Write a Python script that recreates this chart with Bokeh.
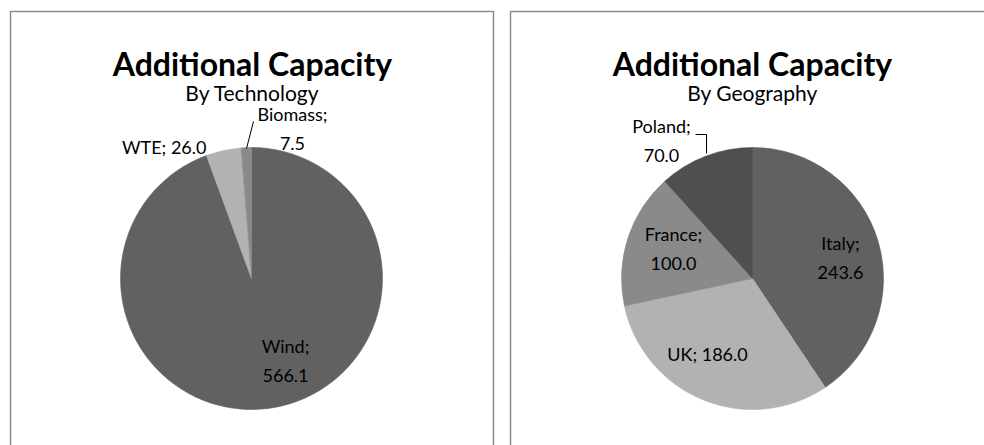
import numpy as np
from bokeh.plotting import figure
from bokeh.models import Range1d, ColumnDataSource
from bokeh.embed import file_html
from bokeh.resources import INLINE
from bokeh.core.properties import value

# Additional capacity split by technology
tech_names = ["Wind", "WTE", "Biomass"]
tech_values = [566.1, 26.0, 7.5]

# Additional capacity split by geography
geo_names = ["Italy", "UK", "France", "Poland"]
geo_values = [243.6, 186.0, 100.0, 70.0]

chart_title = "Additional Capacity"
subtitles = ["By Technology", "By Geography"]

W, H = 984, 445
FONT = "Lato"


def sy(y):
    """Convert a top-down page row into the figure's upward y coordinate."""
    return H - y


p = figure(width=W, height=H, x_range=Range1d(0, W), y_range=Range1d(0, H),
           x_axis_type=None, y_axis_type=None, min_border=0,
           output_backend="svg", toolbar_location=None)
p.grid.visible = False
p.outline_line_color = None
p.background_fill_color = "white"
p.border_fill_color = "white"

# chart-area frames (left, right edges in page pixels)
frames = [(10, 493), (510, 993)]
for left, right in frames:
    p.quad(left=left, right=right, top=sy(11), bottom=sy(460),
           fill_color=None, line_color="#8c8c8c", line_width=1.5)

centers_x = [252, 752]
for cx, sub in zip(centers_x, subtitles):
    p.text(x=[cx], y=[sy(63)], text=[chart_title], text_align="center",
           text_baseline="alphabetic", text_font=value(FONT),
           text_font_style="bold", text_font_size="32px", text_color="#000000")
    p.text(x=[cx], y=[sy(92)], text=[sub], text_align="center",
           text_baseline="alphabetic", text_font=value(FONT),
           text_font_size="21px", text_color="#000000")


def draw_pie(cx, cy, r, vals, colors):
    v = np.asarray(vals, dtype=float)
    frac = np.concatenate([[0.0], np.cumsum(v)]) / v.sum()
    start = np.pi / 2 - 2 * np.pi * frac[:-1]
    end = np.pi / 2 - 2 * np.pi * frac[1:]
    src = ColumnDataSource(dict(start=start, end=end, color=colors))
    p.wedge(x=cx, y=sy(cy), radius=r, radius_units="screen",
            start_angle="start", end_angle="end", direction="clock",
            fill_color="color", line_color="color", line_width=0.6,
            source=src)


R = 131
PIE_Y = 278
draw_pie(251, PIE_Y, R, tech_values, ["#616161", "#b2b2b2", "#8a8a8a"])
draw_pie(752, PIE_Y, R, geo_values, ["#616161", "#b2b2b2", "#8a8a8a", "#4f4f4f"])

# label placement: (x, row, two_lines, align)
tech_label_pos = [(285, 360, True, "center"),
                  (206, 146, False, "right"),
                  (292, 128, True, "center")]
geo_label_pos = [(840, 257, True, "center"),
                 (707, 353, False, "center"),
                 (673, 248, True, "center"),
                 (661, 140, True, "center")]


def draw_labels(names, vals, layout):
    xs, ys, texts, aligns = [], [], [], []
    for name, val, (x, row, two, align) in zip(names, vals, layout):
        sep = "\n" if two else " "
        texts.append(f"{name};{sep}{val:.1f}")
        xs.append(x)
        ys.append(sy(row))
        aligns.append(align)
    src = ColumnDataSource(dict(x=xs, y=ys, text=texts, align=aligns))
    p.text(x="x", y="y", text="text", text_align="align",
           text_baseline="middle", text_font=value(FONT),
           text_font_size="18px", text_line_height=1.35,
           text_color="#000000", source=src)


draw_labels(tech_names, tech_values, tech_label_pos)
draw_labels(geo_names, geo_values, geo_label_pos)

# leader lines for the labels sitting outside the pies
p.multi_line(xs=[[253, 246], [695, 706, 706]],
             ys=[[sy(121), sy(148)], [sy(134), sy(134), sy(153)]],
             line_color="#000000", line_width=1)

open("out.html", "w").write(file_html(p, INLINE))
